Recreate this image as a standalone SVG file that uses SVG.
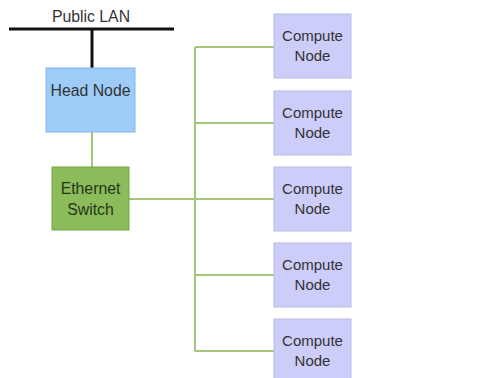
<svg xmlns="http://www.w3.org/2000/svg" width="502" height="378" viewBox="0 0 502 378">
<style>
text{font-family:"Liberation Sans",Arial,sans-serif;font-size:15px;text-anchor:middle;fill:#333}
.big{font-size:15.8px}
.head{fill:#9ecbf7;stroke:#84b6e8;stroke-width:1}
.sw{fill:#8cbb5a;stroke:#77a649;stroke-width:1}
.cn{fill:#cdcdf9;stroke:#b9b9ea;stroke-width:1}
.g{stroke:#a3c678;stroke-width:2;fill:none}
.k{stroke:#111;stroke-width:3;fill:none}
.swt{fill:#25351a}
</style>
<rect width="502" height="378" fill="#fff"/>
<g id="connectors">
<line class="k" x1="9" y1="29" x2="174" y2="29"/>
<line class="k" x1="92" y1="29" x2="92" y2="68"/>
<line class="g" x1="92" y1="132" x2="92" y2="167"/>
<line class="g" x1="129" y1="199" x2="195" y2="199"/>
<line class="g" x1="195" y1="47" x2="195" y2="351"/>
<line class="g" x1="195" y1="47" x2="274" y2="47"/>
<line class="g" x1="195" y1="123" x2="274" y2="123"/>
<line class="g" x1="195" y1="199" x2="274" y2="199"/>
<line class="g" x1="195" y1="275" x2="274" y2="275"/>
<line class="g" x1="195" y1="351" x2="274" y2="351"/>
</g>
<g id="public-lan"><text class="big" x="91" y="22">Public LAN</text></g>
<g id="head-node"><rect class="head" x="46" y="68" width="89" height="64"/><text class="big" x="90.5" y="96">Head Node</text></g>
<g id="ethernet-switch"><rect class="sw" x="52" y="167" width="77" height="63"/><text class="swt big" x="90.5" y="194">Ethernet</text><text class="swt big" x="90.5" y="215">Switch</text></g>
<g id="compute-1"><rect class="cn" x="274" y="14" width="77" height="64"/><text x="312.5" y="41">Compute</text><text x="312.5" y="61">Node</text></g>
<g id="compute-2"><rect class="cn" x="274" y="91" width="77" height="64"/><text x="312.5" y="118">Compute</text><text x="312.5" y="138">Node</text></g>
<g id="compute-3"><rect class="cn" x="274" y="167" width="77" height="64"/><text x="312.5" y="194">Compute</text><text x="312.5" y="214">Node</text></g>
<g id="compute-4"><rect class="cn" x="274" y="243" width="77" height="64"/><text x="312.5" y="270">Compute</text><text x="312.5" y="290">Node</text></g>
<g id="compute-5"><rect class="cn" x="274" y="319" width="77" height="64"/><text x="312.5" y="346">Compute</text><text x="312.5" y="366">Node</text></g>
</svg>
